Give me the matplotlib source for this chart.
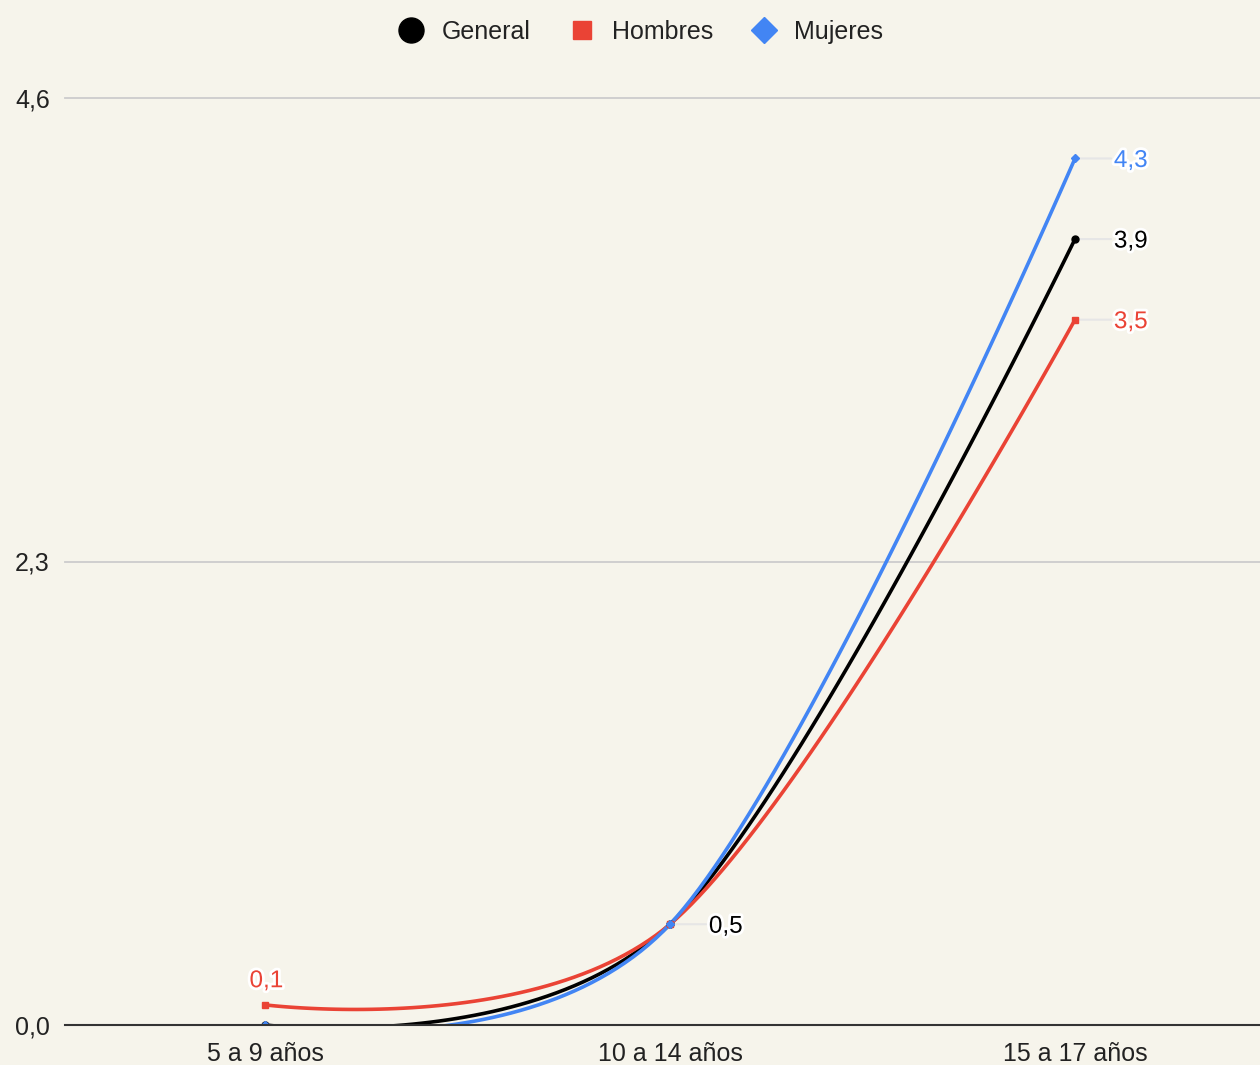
import numpy as np
import matplotlib.pyplot as plt
import matplotlib.patheffects as pe
from matplotlib.lines import Line2D

plt.rcParams['font.family'] = ['Liberation Sans', 'DejaVu Sans']

categories = ['5 a 9 años', '10 a 14 años', '15 a 17 años']
general = [0.0, 0.5, 3.9]
hombres = [0.1, 0.5, 3.5]
mujeres = [0.0, 0.5, 4.3]
y_ticks = [0.0, 2.3, 4.6]

series = [
    ('General', general, '#000000', 'o', 5),
    ('Hombres', hombres, '#ea4335', 's', 4.5),
    ('Mujeres', mujeres, '#4285f4', 'D', 4),
]

bg = '#f6f4eb'


def smooth(xs, ys, t=1/6, n=60):
    # cubic bezier through the points, flat tangent at both ends
    xs = np.asarray(xs, float)
    ys = np.asarray(ys, float)
    pts = np.column_stack([xs, ys])
    out = []
    for i in range(len(pts) - 1):
        p0, p3 = pts[i], pts[i + 1]
        prev = pts[i - 1] if i > 0 else None
        nxt = pts[i + 2] if i + 2 < len(pts) else None
        c1 = p0 + (p3 - prev) * t if prev is not None else p0
        c2 = p3 - (nxt - p0) * t if nxt is not None else p3
        s = np.linspace(0, 1, n)[:, None]
        seg = ((1 - s) ** 3) * p0 + 3 * ((1 - s) ** 2) * s * c1 \
            + 3 * (1 - s) * s ** 2 * c2 + s ** 3 * p3
        out.append(seg if i == 0 else seg[1:])
    out = np.vstack(out)
    return out[:, 0], out[:, 1]


fig = plt.figure(figsize=(12.6, 10.65), dpi=100, facecolor=bg)
ax = fig.add_axes([65 / 1260, 40 / 1065, 1195 / 1260, 927 / 1065])
ax.set_facecolor(bg)

x = np.arange(len(categories))
ax.set_xlim(-200 / 405, 995 / 405)
ax.set_ylim(0, 4.6)

for v in y_ticks[1:]:
    ax.axhline(v, color='#cccccc', lw=1.3, zorder=0, clip_on=False)
ax.axhline(0, color='#333333', lw=1.5, zorder=5, clip_on=False)

for name, vals, col, mk, ms in series:
    sx, sy = smooth(x, vals)
    ax.plot(sx, sy, color=col, lw=2.6, zorder=3, solid_capstyle='butt')
    ax.plot(x, vals, ls='none', marker=mk, color=col, ms=ms, zorder=4,
            markeredgecolor=col)

# value labels, one per distinct point
halo = [pe.withStroke(linewidth=4, foreground='white')]
seen = set()
for name, vals, col, mk, ms in series:
    for xi, v in zip(x, vals):
        if v == 0 or (xi, v) in seen:
            continue
        seen.add((xi, v))
        txt = f'{v:.1f}'.replace('.', ',')
        if xi == 0:
            ax.annotate(txt, (xi, v), xytext=(1, 17), textcoords='offset points',
                        ha='center', va='center', color=col, fontsize=17.5,
                        path_effects=halo, zorder=6, annotation_clip=False)
        else:
            # short grey leader from the point to its label
            ax.annotate('', (xi, v), xytext=(26, 0), textcoords='offset points',
                        annotation_clip=False, zorder=2,
                        arrowprops=dict(arrowstyle='-', color='#e6e6e6', lw=1.5,
                                        shrinkA=0, shrinkB=3))
            ax.annotate(txt, (xi, v), xytext=(28, 0), textcoords='offset points',
                        ha='left', va='center_baseline', color=col, fontsize=17.5,
                        path_effects=halo, zorder=6, annotation_clip=False)

ax.set_xticks(x)
ax.set_xticklabels(categories)
ax.set_yticks(y_ticks)
ax.set_yticklabels([f'{v:.1f}'.replace('.', ',') for v in y_ticks])
ax.tick_params(axis='both', length=0, labelsize=18, colors='#222222')
ax.tick_params(axis='y', pad=11)
ax.tick_params(axis='x', pad=12)
for s in ax.spines.values():
    s.set_visible(False)

handles = [
    Line2D([], [], ls='none', marker='o', color='#000000', ms=18),
    Line2D([], [], ls='none', marker='s', color='#ea4335', ms=13),
    Line2D([], [], ls='none', marker='D', color='#4285f4', ms=13),
]
fig.legend(handles, [s[0] for s in series], loc='center', ncol=3,
           bbox_to_anchor=(0.5 + 11 / 1260, 1 - 32 / 1065), frameon=False,
           fontsize=18, handlelength=1.0, handletextpad=0.7, columnspacing=1.55,
           labelcolor='#222222')

fig.savefig('out.png', dpi=100, facecolor=bg)
